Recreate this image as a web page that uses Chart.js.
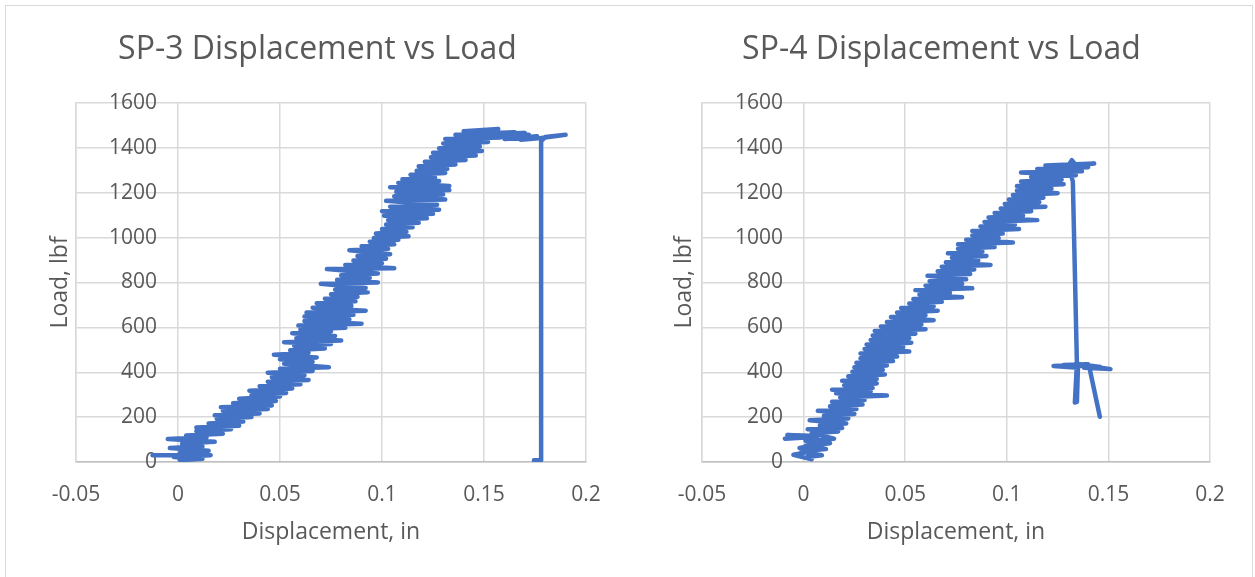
<!DOCTYPE html>
<html><head><meta charset="utf-8">
<script src="https://cdn.jsdelivr.net/npm/chart.js@4.4.1/dist/chart.umd.min.js"></script>
<style>
html,body{margin:0;padding:0;background:#fff;width:1255px;height:577px;overflow:hidden;}
.panel{position:absolute;top:5px;height:600px;border:1.5px solid #D9D9D9;box-sizing:border-box;background:#fff}
#p1{left:5px;width:626px;}
#p2{left:629.5px;width:623px;border-left:none}
canvas{position:absolute}
</style></head><body>
<div class="panel" id="p1"></div><div class="panel" id="p2"></div>
<canvas id="c1" style="left:6px;top:5px" width="623" height="572"></canvas>
<canvas id="c2" style="left:631px;top:5px" width="621" height="572"></canvas>
<script>
const xTicks = [-0.05, 0, 0.05, 0.1, 0.15, 0.2];
const yTicks = [0, 200, 400, 600, 800, 1000, 1200, 1400, 1600];
const titles = ['SP-3 Displacement vs Load', 'SP-4 Displacement vs Load'];
const xTitle = 'Displacement, in';
const yTitle = 'Load, lbf';

const sp3Disp = [
-0.0125, 0.000, 0.001, 0.012, -0.002, 0.016, 0.001, 0.015, -0.004, 0.012,
0.002, 0.018, -0.005, 0.014, 0.004, 0.022, 0.009, 0.026, 0.009, 0.030,
0.015, 0.032, 0.019, 0.036, 0.018, 0.040, 0.022, 0.044, 0.021, 0.046,
0.027, 0.048, 0.030, 0.050, 0.036, 0.053, 0.035, 0.056, 0.040, 0.060,
0.044, 0.064, 0.046, 0.062, 0.044, 0.066, 0.050, 0.074, 0.052, 0.066,
0.050, 0.068, 0.047, 0.064, 0.055, 0.072, 0.057, 0.075, 0.052, 0.080,
0.058, 0.077, 0.056, 0.075, 0.060, 0.082, 0.059, 0.090, 0.062, 0.084,
0.062, 0.086, 0.063, 0.092, 0.066, 0.085, 0.068, 0.087, 0.072, 0.088,
0.075, 0.093, 0.077, 0.092, 0.070, 0.098, 0.078, 0.094, 0.080, 0.098,
0.073, 0.106, 0.082, 0.100, 0.086, 0.102, 0.088, 0.104, 0.084, 0.103,
0.090, 0.106, 0.094, 0.108, 0.096, 0.113, 0.097, 0.112, 0.100, 0.115,
0.102, 0.118, 0.103, 0.122, 0.101, 0.125, 0.100, 0.128, 0.104, 0.127,
0.102, 0.131, 0.106, 0.130, 0.107, 0.133, 0.104, 0.133, 0.108, 0.128,
0.110, 0.126, 0.114, 0.131, 0.117, 0.132, 0.118, 0.136, 0.121, 0.141,
0.124, 0.146, 0.125, 0.149, 0.128, 0.148, 0.130, 0.152, 0.131, 0.158,
0.136, 0.160, 0.140, 0.157, 0.145, 0.165, 0.142, 0.170, 0.150, 0.172,
0.148, 0.174, 0.160, 0.176, 0.168, 0.178, 0.190, 0.180, 0.178, 0.178,
0.1745
];
const sp3Load = [
30, 30, 8, 14, 22, 30, 42, 50, 62, 70,
82, 90, 102, 110, 118, 126, 138, 146, 154, 162,
172, 180, 192, 200, 208, 216, 228, 236, 244, 252,
262, 272, 282, 292, 298, 308, 318, 328, 338, 346,
358, 366, 378, 386, 398, 406, 416, 422, 438, 446,
458, 466, 478, 486, 498, 506, 518, 526, 534, 542,
552, 562, 574, 582, 590, 598, 608, 616, 628, 636,
648, 656, 666, 674, 688, 696, 708, 716, 728, 736,
748, 756, 768, 776, 794, 800, 812, 820, 832, 840,
860, 864, 878, 886, 898, 906, 918, 926, 944, 950,
962, 970, 982, 990, 998, 1006, 1018, 1026, 1038, 1046,
1058, 1066, 1078, 1086, 1098, 1106, 1118, 1124, 1138, 1146,
1164, 1170, 1184, 1192, 1204, 1212, 1224, 1230, 1244, 1252,
1260, 1268, 1280, 1288, 1298, 1306, 1318, 1326, 1338, 1346,
1358, 1366, 1378, 1386, 1398, 1406, 1420, 1426, 1440, 1446,
1458, 1466, 1474, 1484, 1452, 1470, 1462, 1466, 1446, 1458,
1458, 1446, 1440, 1452, 1436, 1444, 1458, 1448, 1430, 8,
8
];

const sp4Disp = [
-0.0092, 0.003, -0.008, 0.007, 0.001, 0.009, -0.002, 0.008, -0.005, 0.004,
0.002, 0.009, -0.001, 0.011, 0.001, 0.013, 0.003, 0.015, 0.004, 0.017,
0.002, 0.019, 0.008, 0.021, 0.003, 0.022, 0.010, 0.025, 0.007, 0.026,
0.013, 0.029, 0.014, 0.030, 0.018, 0.041, 0.016, 0.033, 0.014, 0.034,
0.020, 0.036, 0.019, 0.036, 0.022, 0.040, 0.024, 0.039, 0.025, 0.041,
0.026, 0.044, 0.028, 0.046, 0.028, 0.052, 0.030, 0.049, 0.031, 0.053,
0.033, 0.052, 0.034, 0.055, 0.035, 0.060, 0.038, 0.058, 0.041, 0.064,
0.043, 0.060, 0.046, 0.066, 0.048, 0.064, 0.052, 0.068, 0.054, 0.078,
0.057, 0.072, 0.055, 0.083, 0.060, 0.078, 0.062, 0.080, 0.061, 0.082,
0.066, 0.084, 0.068, 0.092, 0.070, 0.086, 0.073, 0.090, 0.071, 0.088,
0.076, 0.094, 0.076, 0.103, 0.080, 0.096, 0.083, 0.098, 0.083, 0.106,
0.087, 0.104, 0.089, 0.115, 0.091, 0.108, 0.094, 0.112, 0.097, 0.119,
0.099, 0.116, 0.101, 0.118, 0.103, 0.125, 0.105, 0.122, 0.105, 0.128,
0.107, 0.127, 0.112, 0.134, 0.107, 0.137, 0.115, 0.140, 0.119, 0.143,
0.130, 0.132, 0.135, 0.141, 0.131, 0.1325, 0.1345, 0.1335, 0.1345, 0.135,
0.123, 0.140, 0.128, 0.146, 0.134, 0.151, 0.138, 0.1405, 0.1458
];
const sp4Load = [
104, 110, 120, 116, 95, 80, 62, 55, 32, 12,
22, 30, 48, 58, 72, 84, 96, 104, 128, 136,
146, 152, 164, 172, 186, 194, 206, 214, 228, 236,
248, 256, 268, 276, 288, 296, 306, 314, 322, 330,
342, 350, 362, 370, 382, 390, 402, 410, 422, 430,
442, 450, 462, 470, 484, 492, 504, 512, 524, 532,
544, 552, 564, 572, 584, 592, 604, 612, 624, 632,
646, 654, 666, 674, 686, 694, 706, 714, 726, 734,
746, 754, 766, 774, 786, 794, 806, 814, 830, 838,
850, 858, 870, 878, 890, 898, 910, 918, 930, 938,
950, 958, 970, 978, 990, 998, 1010, 1018, 1030, 1038,
1050, 1058, 1070, 1078, 1090, 1098, 1110, 1118, 1130, 1138,
1150, 1158, 1170, 1178, 1190, 1198, 1210, 1218, 1230, 1238,
1250, 1258, 1270, 1278, 1290, 1296, 1306, 1314, 1322, 1330,
1318, 1345, 1312, 1328, 1300, 1250, 440, 265, 268, 420,
428, 436, 432, 424, 438, 414, 420, 428, 202
];

const FONT = '"Open Sans", "Noto Sans", sans-serif';
const TXT = '#595959';
const GRID = '#D9D9D9';

function makeChart(id, title, xs, ys, pad, yW) {
  const pts = xs.map((x, i) => ({x: x, y: ys[i]}));
  return new Chart(document.getElementById(id), {
    type: 'scatter',
    data: {datasets: [{
      data: pts, showLine: true, borderColor: '#4472C4', backgroundColor: '#4472C4',
      borderWidth: 4.5, pointRadius: 0, pointHoverRadius: 0, tension: 0,
      borderJoinStyle: 'round', borderCapStyle: 'round'
    }]},
    options: {
      responsive: false, animation: false, devicePixelRatio: 1,
      layout: {padding: {left: pad, right: pad, top: 0, bottom: 0}},
      plugins: {
        legend: {display: false}, tooltip: {enabled: false},
        title: {display: true, text: title, color: TXT,
          font: {family: FONT, size: 32, weight: 'normal', lineHeight: 1.2},
          padding: {top: 26, bottom: 33.6}}
      },
      scales: {
        x: {
          type: 'linear', min: xTicks[0], max: xTicks[xTicks.length - 1],
          afterBuildTicks: s => { s.ticks = xTicks.map(v => ({value: v})); },
          afterFit: s => { s.height = 115; },
          grid: {color: GRID, lineWidth: 1.5, drawTicks: false},
          border: {color: '#BFBFBF', width: 1.5},
          ticks: {padding: 20, color: TXT, font: {family: FONT, size: 21, lineHeight: 1.2}, callback: v => String(v)},
          title: {display: true, text: xTitle, color: TXT,
            font: {family: FONT, size: 23, lineHeight: 1.2}, padding: {top: 0, bottom: 31.2}}
        },
        y: {
          type: 'linear', min: yTicks[0], max: yTicks[yTicks.length - 1],
          afterBuildTicks: s => { s.ticks = yTicks.map(v => ({value: v})); },
          afterFit: s => { s.width = yW; },
          grid: {color: GRID, lineWidth: 1.5, drawTicks: false},
          border: {color: GRID, width: 1.5},
          ticks: {mirror: true, crossAlign: 'far', padding: 33, color: TXT,
            font: {family: FONT, size: 21, lineHeight: 1.2}, callback: v => String(v)},
          title: {display: true, text: yTitle, color: TXT,
            font: {family: FONT, size: 23, lineHeight: 1.0}, padding: {top: 0, bottom: 0}}
        }
      }
    }
  });
}

makeChart('c1', titles[0], sp3Disp, sp3Load, 43, 27);
makeChart('c2', titles[1], sp4Disp, sp4Load, 42, 29);
</script>
</body></html>
